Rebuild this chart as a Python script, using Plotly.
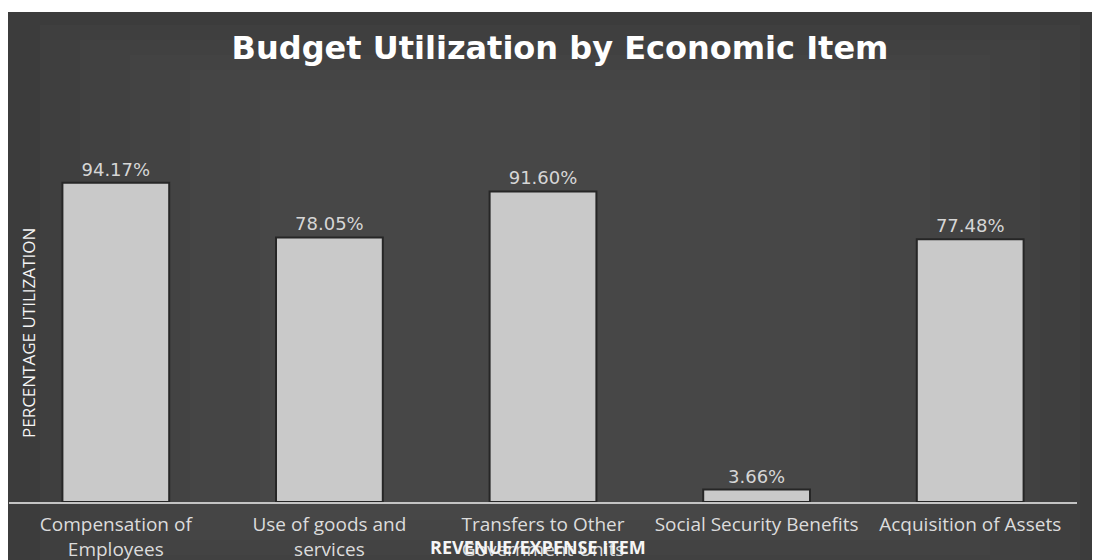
import plotly.graph_objects as go

categories = ["Compensation of<br>Employees", "Use of goods and<br>services",
              "Transfers to Other<br>Government Units", "Social Security Benefits",
              "Acquisition of Assets"]
utilization = [94.17, 78.05, 91.60, 3.66, 77.48]
labels = ["94.17%", "78.05%", "91.60%", "3.66%", "77.48%"]

# page body adds an 8px margin; figure coords are reference coords minus 8
OFF = 8
W, H = 1092, 552
L, R, T, B = 1, 23, 155, 58
pw, ph = W - L - R, H - T - B


def px_x(x):
    return (x - OFF - L) / pw


def px_y(y):
    return (H - B - (y - OFF)) / ph


bg_steps = [
    (8, 1110, 12, 570, "#3c3c3c"),
    (40, 1080, 25, 565, "#3f3f3f"),
    (80, 1040, 40, 560, "#414141"),
    (130, 990, 55, 555, "#434343"),
    (190, 930, 70, 540, "#454545"),
    (260, 860, 90, 520, "#474747"),
]
shapes = [dict(type="rect", xref="paper", yref="paper", layer="below",
               x0=px_x(a), x1=px_x(b), y0=px_y(d), y1=px_y(c),
               fillcolor=col, line=dict(width=0)) for a, b, c, d, col in bg_steps]

fig = go.Figure()
fig.add_trace(go.Bar(
    x=categories, y=utilization, text=labels, textposition="outside",
    textfont=dict(family="DejaVu Sans", size=18, color="#d6d6d6"),
    marker=dict(color="#c9c9c9", line=dict(color="#262626", width=2)),
    cliponaxis=False, hoverinfo="skip",
))

fig.update_layout(
    width=W, height=H,
    margin=dict(l=L, r=R, t=T, b=B, autoexpand=False),
    paper_bgcolor="white", plot_bgcolor="rgba(0,0,0,0)",
    bargap=0.5, showlegend=False,
    shapes=shapes,
    title=dict(text="<b>Budget Utilization by Economic Item</b>",
               x=(560 - OFF) / W, xanchor="center",
               y=1 - (48 - OFF) / H, yanchor="middle",
               font=dict(family="DejaVu Sans", size=32, color="white")),
    xaxis=dict(showline=True, linecolor="#c4c4c4", linewidth=2, ticks="",
               showgrid=False, ticklabelstandoff=4, automargin=False,
               tickfont=dict(family="Open Sans", size=19, color="#dcdcdc")),
    yaxis=dict(range=[0, 100], showticklabels=False, showgrid=False,
               zeroline=False, showline=False, automargin=False),
    annotations=[
        dict(text="PERCENTAGE UTILIZATION", textangle=-90, xref="paper", yref="paper",
             x=px_x(28), y=px_y(333), showarrow=False, xanchor="center", yanchor="middle",
             font=dict(family="Open Sans", size=17, color="#f4f4f4")),
        dict(text="<b>REVENUE/EXPENSE ITEM</b>", xref="paper", yref="paper",
             x=px_x(538), y=px_y(547), showarrow=False, xanchor="center", yanchor="middle",
             font=dict(family="Open Sans", size=18, color="#f5f5f5")),
    ],
)

fig.write_html("out.html")
